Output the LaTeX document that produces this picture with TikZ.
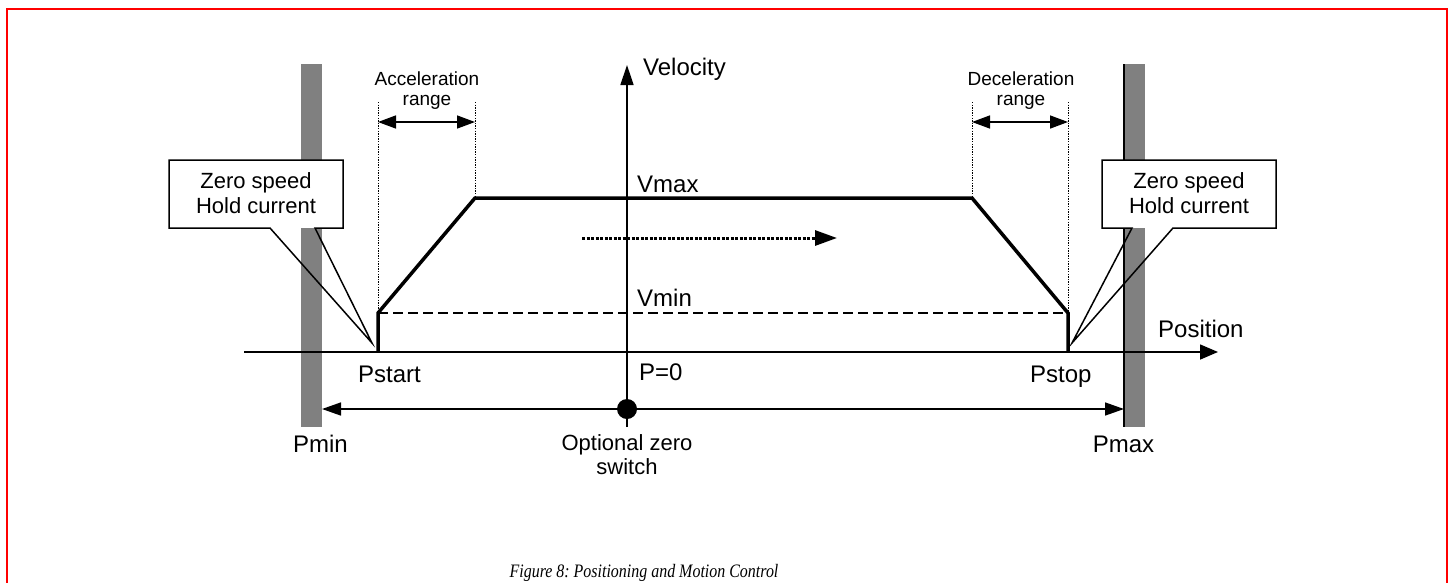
\documentclass[tikz,border=0pt]{standalone}
\usepackage{fontspec}
\setmainfont{Liberation Sans}
\newfontfamily\capfont[FakeStretch=0.84]{Liberation Serif}
\usetikzlibrary{arrows.meta}
\definecolor{barcol}{RGB}{128,128,128}
\definecolor{framered}{RGB}{255,0,0}
\tikzset{
  lbl/.style={inner sep=0pt, font=\fontsize{24}{28}\selectfont},
  midlbl/.style={inner sep=0pt, font=\fontsize{22}{25}\selectfont},
  smalllbl/.style={inner sep=0pt, font=\fontsize{19}{21}\selectfont},
  axisline/.style={line width=1.5pt},
  profile/.style={line width=3.5pt, line join=miter},
  guide/.style={line width=1pt, dash pattern=on 1.3pt off 1.3pt},
  rangearrow/.style={line width=1.5pt, {Triangle[length=18pt,width=13pt]}-{Triangle[length=18pt,width=13pt]}},
  callout/.style={line width=1.5pt, line join=miter},
  bar/.style={fill=barcol}
}
\begin{document}
\frenchspacing
\begin{tikzpicture}[x=1pt,y=-1pt]
\clip (0,0) rectangle (1453,582);
\fill[white] (0,0) rectangle (1453,582);
% red frame
\draw[framered, line width=1.8pt] (7,600) -- (7,9) -- (1447,9) -- (1447,600);
% end stops
\fill[bar] (301,64) rectangle (322,427);
\fill[bar] (1125,64) rectangle (1145,427);
\coordinate (pmaxT) at (1124,64);
\coordinate (pmaxB) at (1124,427);
\draw[line width=1.5pt] (pmaxT) -- (pmaxB);
% coordinates of profile
\coordinate (s0) at (378,352);
\coordinate (s1) at (378,313);
\coordinate (s2) at (475,198);
\coordinate (s3) at (972,198);
\coordinate (s4) at (1068,313);
\coordinate (s5) at (1068,352);
% axes
\coordinate (posL) at (244,352);
\coordinate (posR) at (1218,352);
\coordinate (velB) at (627,427);
\coordinate (velT) at (627,65);
\draw[axisline, -{Triangle[length=18pt,width=15pt]}] (posL) -- (posR);
\draw[axisline, -{Triangle[length=20pt,width=13pt]}] (velB) -- (velT);
% vmin dashed
\draw[line width=1.3pt, dash pattern=on 10pt off 5pt] (s1) -- (s4);
% guides
\coordinate (g1) at (378,102);
\coordinate (g2) at (475,102);
\coordinate (g3) at (972,102);
\coordinate (g4) at (1068,102);
\draw[guide] (g1) -- (s1);
\draw[guide] (g2) -- (s2);
\draw[guide] (g3) -- (s3);
\draw[guide] (g4) -- (s4);
% range arrows
\coordinate (a1) at (378,122);
\coordinate (a2) at (475,122);
\coordinate (d1) at (972,122);
\coordinate (d2) at (1068,122);
\draw[rangearrow] (a1) -- (a2);
\draw[rangearrow] (d1) -- (d2);
% profile
\draw[profile] (s0) -- (s1) -- (s2) -- (s3) -- (s4) -- (s5);
% motion arrow
\coordinate (m1) at (582,238);
\coordinate (m2) at (837,238);
\draw[line width=3pt, dash pattern=on 3pt off 1.5pt, -{Triangle[length=22pt,width=15pt,sep=0pt]}] (m1) -- (m2);
% bottom range
\coordinate (bL) at (322,409);
\coordinate (bR) at (1124,409);
\draw[axisline, {Triangle[length=19pt,width=13pt]}-{Triangle[length=19pt,width=13pt]}] (bL) -- (bR);
\node[circle, fill=black, minimum size=20pt, inner sep=0pt] (zero) at (627,409) {};
% callouts
\fill[white] (169,160) rectangle (343,228);
\draw[callout] (169,160) -- (343,160) -- (343,228) -- (315,228) -- (372,343) -- (270,228) -- (169,228) -- cycle;
\fill[white] (1102,160) rectangle (1276,228);
\draw[callout] (1102,160) -- (1276,160) -- (1276,228) -- (1173,228) -- (1072,343) -- (1132,228) -- (1102,228) -- cycle;
\node[midlbl, anchor=base] (zl1) at (256,188) {Zero speed};
\node[midlbl, anchor=base] (zl2) at (256,213) {Hold current};
\node[midlbl, anchor=base] (zr1) at (1189,188) {Zero speed};
\node[midlbl, anchor=base] (zr2) at (1189,213) {Hold current};
% labels
\node[lbl, anchor=base west] (vel) at (643,75) {Velocity};
\node[lbl, anchor=base west] (vmax) at (637,192) {Vmax};
\node[lbl, anchor=base west] (vmin) at (637,306) {Vmin};
\node[lbl, anchor=base west] (pos) at (1158,337) {Position};
\node[lbl, anchor=base west] (pstart) at (358,382) {Pstart};
\node[lbl, anchor=base west] (p0) at (639,380) {P=0};
\node[lbl, anchor=base west] (pstop) at (1030,382) {Pstop};
\node[lbl, anchor=base] (pmin) at (320.5,452) {Pmin};
\node[lbl, anchor=base] (pmax) at (1123.5,452) {Pmax};
\node[midlbl, anchor=base] (oz1) at (627,450) {Optional zero};
\node[midlbl, anchor=base] (oz2) at (627,474) {switch};
\node[smalllbl, anchor=base] (acc1) at (427,85) {Acceleration};
\node[smalllbl, anchor=base] (acc2) at (427,105) {range};
\node[smalllbl, anchor=base] (dec1) at (1021,85) {Deceleration};
\node[smalllbl, anchor=base] (dec2) at (1021,105) {range};
\node[inner sep=0pt, anchor=base, font=\capfont\itshape\fontsize{19}{22}\selectfont] (cap) at (644,577) {Figure 8: Positioning and Motion Control};
\end{tikzpicture}
\end{document}
